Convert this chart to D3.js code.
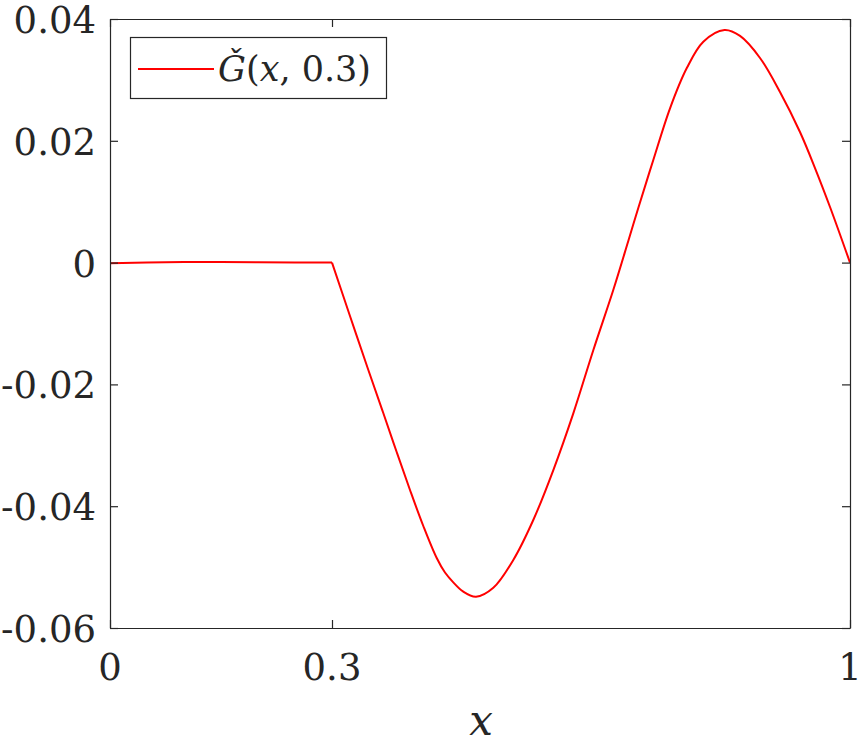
<!DOCTYPE html>
<html>
<head>
<meta charset="utf-8">
<script src="https://cdn.jsdelivr.net/npm/d3@7"></script>
<style>
  html, body { margin: 0; padding: 0; background: #fff; }
  svg { display: block; }
  text { font-family: "DejaVu Serif", serif; fill: #262626; }
</style>
</head>
<body>
<svg id="chart" width="859" height="745"></svg>
<script>
// ---- data ----
const xValues = [0, 0.05, 0.1, 0.15, 0.2, 0.25, 0.3,
  0.3243, 0.3491, 0.3693, 0.3874, 0.4054, 0.4234, 0.4415, 0.4527, 0.4639, 0.4770, 0.4946,
  0.5180, 0.5450, 0.5720, 0.5991, 0.6261, 0.6532, 0.6801, 0.7004, 0.7139, 0.7342,
  0.7568, 0.7793, 0.8018, 0.8304, 0.8514, 0.8784, 0.9054, 0.9324, 0.9527, 0.9730, 1.0];
const gValues = [-0.0001, 0.00003, 0.0001, 0.00008, 0.00005, 0.00003, 0,
  -0.00877, -0.01764, -0.02470, -0.03110, -0.03734, -0.04325, -0.04851, -0.05089, -0.05250, -0.05400, -0.05486,
  -0.05340, -0.04883, -0.04227, -0.03406, -0.02475, -0.01435, -0.00450, 0.00355, 0.00897, 0.01685,
  0.02534, 0.03190, 0.03627, 0.03819, 0.03722, 0.03360, 0.02801, 0.02144, 0.01553, 0.00913, 0];
const xTicks = [0, 0.3, 1];
const xTickLabels = ["0", "0.3", "1"];
const yTicks = [-0.06, -0.04, -0.02, 0, 0.02, 0.04];
const yTickLabels = ["-0.06", "-0.04", "-0.02", "0", "0.02", "0.04"];
const kinkX = 0.3;

// ---- layout ----
const L = 110, R = 850, T = 19, B = 628;
const svg = d3.select("#chart");
const x = d3.scaleLinear().domain([0, 1]).range([L, R]);
const y = d3.scaleLinear().domain([-0.06, 0.04]).range([B, T]);
const axisColor = "#262626";
const tickLen = 8;

const pts = xValues.map((v, i) => [v, gValues[i]]);
const left = pts.filter(p => p[0] <= kinkX);
const right = pts.filter(p => p[0] >= kinkX);

const lineLin = d3.line().x(d => x(d[0])).y(d => y(d[1])).curve(d3.curveLinear);
const lineSmooth = d3.line().x(d => x(d[0])).y(d => y(d[1])).curve(d3.curveCatmullRom.alpha(0.5));

// curve
svg.append("path").attr("d", lineLin(left))
  .attr("fill", "none").attr("stroke", "#ff0000").attr("stroke-width", 2).attr("stroke-linejoin", "round");
svg.append("path").attr("d", lineSmooth(right))
  .attr("fill", "none").attr("stroke", "#ff0000").attr("stroke-width", 2).attr("stroke-linejoin", "round");

// axes box with inward ticks
const gAx = svg.append("g");
const bottomAxis = d3.axisBottom(x).tickValues(xTicks).tickSizeInner(-tickLen).tickSizeOuter(0).tickFormat("");
const topAxis = d3.axisTop(x).tickValues(xTicks).tickSizeInner(-tickLen).tickSizeOuter(0).tickFormat("");
const leftAxis = d3.axisLeft(y).tickValues(yTicks).tickSizeInner(-tickLen).tickSizeOuter(0).tickFormat("");
const rightAxis = d3.axisRight(y).tickValues(yTicks).tickSizeInner(-tickLen).tickSizeOuter(0).tickFormat("");

[[bottomAxis, `translate(0,${B})`], [topAxis, `translate(0,${T})`],
 [leftAxis, `translate(${L},0)`], [rightAxis, `translate(${R},0)`]].forEach(([ax, tr]) => {
  const g = gAx.append("g").attr("transform", tr).call(ax);
  g.selectAll("path, line").attr("stroke", axisColor).attr("stroke-width", 1.2);
});

// tick labels
const fs = 37;
svg.append("g").selectAll("text").data(xTicks).join("text")
  .attr("x", d => x(d)).attr("y", 680)
  .attr("text-anchor", "middle").attr("font-size", fs)
  .text((d, i) => xTickLabels[i]);
svg.append("g").selectAll("text").data(yTicks).join("text")
  .attr("x", 96).attr("y", d => y(d) + 14)
  .attr("text-anchor", "end").attr("font-size", fs)
  .text((d, i) => yTickLabels[i]);

// x label
svg.append("text").attr("x", 481).attr("y", 735)
  .attr("text-anchor", "middle").attr("font-size", 42).attr("font-style", "italic").text("x");

// legend
const lg = svg.append("g");
lg.append("rect").attr("x", 130.5).attr("y", 37.5).attr("width", 256).attr("height", 61)
  .attr("fill", "#fff").attr("stroke", axisColor).attr("stroke-width", 1.2);
lg.append("line").attr("x1", 138).attr("x2", 214).attr("y1", 69).attr("y2", 69)
  .attr("stroke", "#ff0000").attr("stroke-width", 2);
const lt = lg.append("text").attr("x", 218).attr("y", 81).attr("font-size", 35);
lt.append("tspan").attr("font-style", "italic").text("Ǧ");
lt.append("tspan").text("(");
lt.append("tspan").attr("font-style", "italic").text("x");
lt.append("tspan").text(", 0.3)");
</script>
</body>
</html>
